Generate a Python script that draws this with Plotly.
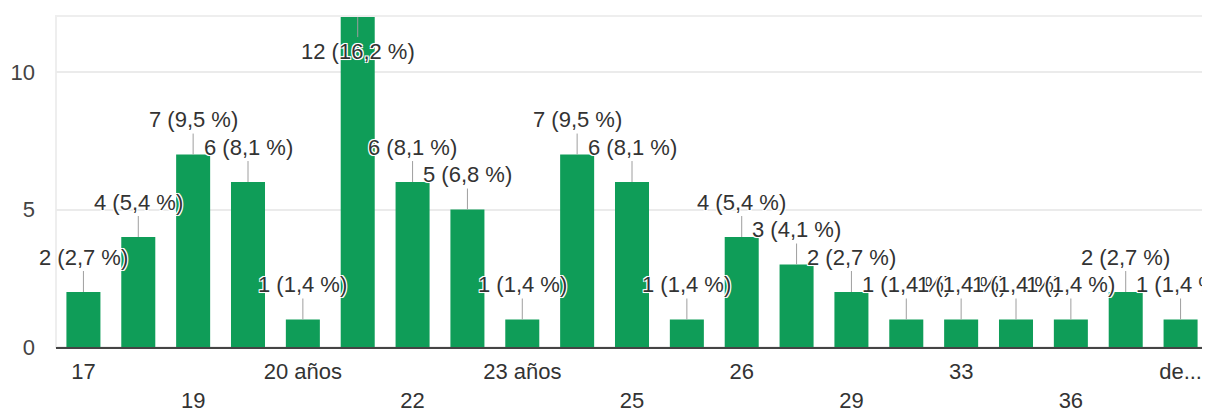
import plotly.graph_objects as go

categories = ["17", "18", "19", "20", "20 años", "21", "22", "23", "23 años", "24",
              "25", "25 años", "26", "28", "29", "30", "33", "35", "36", "40", "de..."]
counts = [2, 4, 7, 6, 1, 12, 6, 5, 1, 7, 6, 1, 4, 3, 2, 1, 1, 1, 1, 2, 1]
y_ticks = [0, 5, 10]

total = sum(counts)
labels = [f"{c} ({c / total * 100:.1f} %)".replace(".", ",") for c in counts]

FONT = "Liberation Sans, Arial, sans-serif"
GREEN = "#0f9d58"

fig = go.Figure()
fig.add_trace(go.Bar(x=categories, y=counts, marker=dict(color=GREEN, line=dict(width=0)),
                     hoverinfo="skip"))

ymax = 12.04
halo = "-1px -1px 0 #fff, 1px -1px 0 #fff, -1px 1px 0 #fff, 1px 1px 0 #fff, 0 0 2px #fff"
for i, (c, lab) in enumerate(zip(counts, labels)):
    below = c >= 12
    fig.add_annotation(x=i, y=c, xref="x", yref="y", text=lab, showarrow=True,
                       arrowhead=0, arrowwidth=1, arrowcolor="#9e9e9e",
                       ax=0, ay=34 if below else -35, standoff=0,
                       font=dict(family=FONT, size=22, color="#333333", shadow=halo))

# x tick labels alternate between two rows
tickvals = categories[::2]
ticktext = [t if k % 2 == 0 else "<br>" + t for k, t in enumerate(tickvals)]

fig.update_layout(
    width=1202, height=411,
    margin=dict(l=48, r=2, t=8, b=72),
    paper_bgcolor="white", plot_bgcolor="white",
    bargap=0.38, showlegend=False,
    font=dict(family=FONT, size=22, color="#444444"),
    xaxis=dict(type="category", range=[-0.5, len(categories) - 0.5],
               tickvals=tickvals, ticktext=ticktext, tickfont=dict(size=22, color="#333333"),
               showgrid=False, showline=True, linecolor="#444444", linewidth=2,
               ticks="", ticklabelstandoff=4, automargin=False, fixedrange=True),
    yaxis=dict(range=[0, ymax], tickvals=y_ticks, showgrid=True, gridcolor="#ebebeb",
               gridwidth=1.5, zeroline=False, showline=False, ticks="", ticklabelstandoff=20,
               automargin=False, tickfont=dict(size=22, color="#444444")),
    shapes=[dict(type="rect", xref="paper", yref="paper", x0=0, x1=1, y0=0, y1=1,
                 line=dict(color="#eeeeee", width=2), layer="below")],
)

fig.write_html("out.html")
